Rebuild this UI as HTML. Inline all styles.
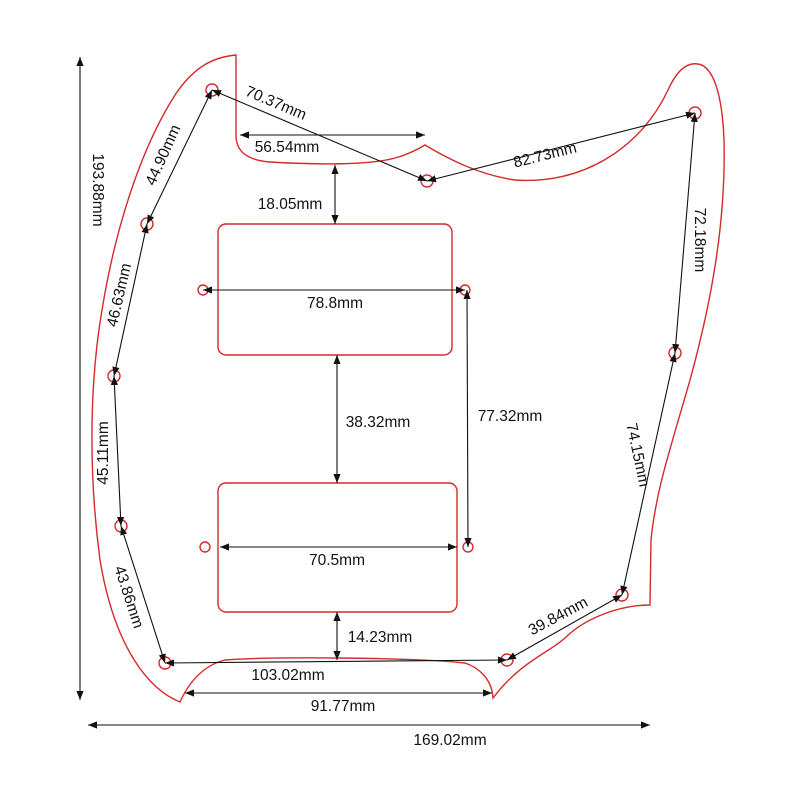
<!DOCTYPE html>
<html><head><meta charset="utf-8"><style>html,body{margin:0;padding:0;background:#fff}svg{display:block}</style></head>
<body>
<svg width="800" height="800" viewBox="0 0 800 800" xmlns="http://www.w3.org/2000/svg">
<defs>
<marker id="a" viewBox="0 0 10 10" refX="10" refY="5" markerWidth="9" markerHeight="9" orient="auto-start-reverse" markerUnits="userSpaceOnUse"><path d="M0,1 L10,5 L0,9 z" fill="#111"/></marker>
</defs>
<g fill="none" stroke="#d42a2a" stroke-width="1.4">
<path d="M236,55 L236,135 C236,150 245,160 270,162 C320,165 370,165 395,158 C410,154 420,148 425,145 C450,160 480,175 515,180 C580,185 640,150 668,90 C676,72 686,62 698,64 C712,66 722,90 724,140 C726,220 712,300 690,380 C670,450 656,490 651,540 L650,605 C620,605 585,618 565,638 C550,652 520,662 493,698 C492,680 480,668 465,663 C420,658 280,656 225,660 C205,665 190,680 180,702 C150,690 115,650 100,560 C88,470 90,380 102,310 C115,230 140,150 175,95 C195,65 215,57 236,55 Z"/>
<rect x="218" y="224" width="234" height="131" rx="8"/>
<rect x="218" y="483" width="239" height="129" rx="8"/>
<circle cx="212" cy="90" r="6"/><circle cx="147" cy="224" r="6"/><circle cx="114" cy="376" r="6"/><circle cx="121" cy="526" r="6"/><circle cx="165" cy="663" r="6"/><circle cx="507" cy="660" r="6"/><circle cx="622" cy="595" r="6"/><circle cx="675" cy="353" r="6"/><circle cx="695" cy="113" r="6"/><circle cx="427" cy="181" r="6"/><circle cx="203" cy="290" r="5"/><circle cx="465" cy="290" r="5"/><circle cx="205" cy="547" r="5"/><circle cx="468" cy="547" r="5"/>
</g>
<g stroke="#111" stroke-width="1.1" marker-start="url(#a)" marker-end="url(#a)">
<line x1="212" y1="90" x2="427" y2="181"/>
<line x1="240" y1="135" x2="425" y2="135"/>
<line x1="427" y1="181" x2="695" y2="113"/>
<line x1="335" y1="165" x2="335" y2="224"/>
<line x1="203" y1="290" x2="465" y2="290"/>
<line x1="467" y1="290" x2="468" y2="547"/>
<line x1="337" y1="355" x2="337" y2="483"/>
<line x1="220" y1="547" x2="457" y2="547"/>
<line x1="337" y1="612" x2="337" y2="660"/>
<line x1="165" y1="663" x2="507" y2="660"/>
<line x1="185" y1="693" x2="492" y2="693"/>
<line x1="88" y1="725" x2="650" y2="725"/>
<line x1="80" y1="57" x2="80" y2="700"/>
<line x1="212" y1="90" x2="147" y2="224"/>
<line x1="147" y1="224" x2="114" y2="376"/>
<line x1="114" y1="376" x2="121" y2="526"/>
<line x1="121" y1="526" x2="165" y2="663"/>
<line x1="507" y1="660" x2="622" y2="595"/>
<line x1="622" y1="595" x2="675" y2="353"/>
<line x1="675" y1="353" x2="695" y2="113"/>
</g>
<g font-family="Liberation Sans, sans-serif" font-size="15.5" fill="#111" text-anchor="middle">
<text x="276" y="108" transform="rotate(23 276 103)">70.37mm</text>
<text x="287" y="152">56.54mm</text>
<text x="545" y="160" transform="rotate(-14 545 155)">82.73mm</text>
<text x="290" y="209">18.05mm</text>
<text x="335" y="308">78.8mm</text>
<text x="510" y="421">77.32mm</text>
<text x="378" y="427">38.32mm</text>
<text x="337" y="565">70.5mm</text>
<text x="380" y="642">14.23mm</text>
<text x="288" y="680">103.02mm</text>
<text x="343" y="711">91.77mm</text>
<text x="450" y="745">169.02mm</text>
<text x="93" y="190" transform="rotate(90 93 190)">193.88mm</text>
<text x="163" y="160" transform="rotate(-66 163 155)">44.90mm</text>
<text x="119" y="300" transform="rotate(-77 119 295)">46.63mm</text>
<text x="103" y="458" transform="rotate(-90 103 453)">45.11mm</text>
<text x="129" y="602" transform="rotate(72 129 597)">43.86mm</text>
<text x="558" y="621" transform="rotate(-28 558 616)">39.84mm</text>
<text x="638" y="460" transform="rotate(78 638 455)">74.15mm</text>
<text x="700" y="245" transform="rotate(90 700 240)">72.18mm</text>
</g>
</svg>
</body></html>
